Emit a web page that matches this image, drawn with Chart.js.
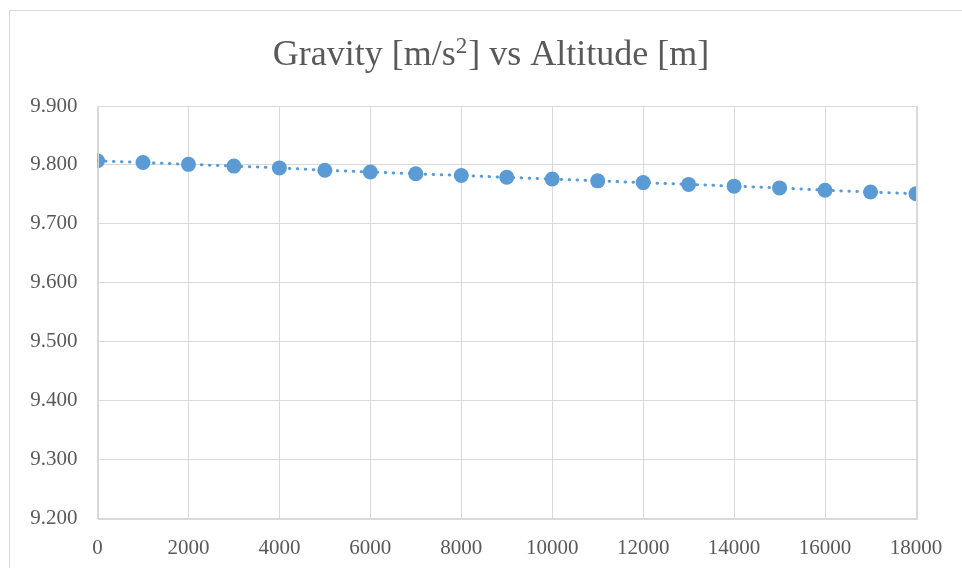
<!DOCTYPE html>
<html>
<head>
<meta charset="utf-8">
<title>Gravity vs Altitude</title>
<script src="https://cdn.jsdelivr.net/npm/chart.js@4/dist/chart.umd.min.js"></script>
<style>
  html, body { margin: 0; padding: 0; background: #fff; overflow: hidden; }
  #wrap { position: relative; width: 962px; height: 568px; }
  #frame {
    position: absolute; left: 9px; top: 10px; width: 1000px; height: 700px;
    border: 1px solid #d9d9d9; box-sizing: border-box;
  }
  canvas { position: absolute; left: 0; top: 0; }
</style>
</head>
<body>
<div id="wrap">
  <div id="frame"></div>
  <canvas id="myChart" width="962" height="568"></canvas>
</div>
<script>
// altitude [m] and gravity [m/s²]
const altitudes = [0, 1000, 2000, 3000, 4000, 5000, 6000, 7000, 8000, 9000,
                   10000, 11000, 12000, 13000, 14000, 15000, 16000, 17000, 18000];
const gravity = [9.807, 9.804, 9.801, 9.798, 9.795, 9.791, 9.788, 9.785, 9.782, 9.779,
                 9.776, 9.773, 9.770, 9.767, 9.764, 9.761, 9.757, 9.754, 9.751];

const xTicks = [0, 2000, 4000, 6000, 8000, 10000, 12000, 14000, 16000, 18000];
const yTicks = [9.2, 9.3, 9.4, 9.5, 9.6, 9.7, 9.8, 9.9];

// title pieces: the "2" is drawn as a superscript
const titleParts = [
    { text: 'Gravity [m/s', sup: false },
    { text: '2', sup: true },
    { text: '] vs Altitude [m]', sup: false }
];

const points = altitudes.map((h, i) => ({ x: h, y: gravity[i] }));

const textColor = '#595959';
const gridColor = '#d9d9d9';
const serif = '"Liberation Serif", "DejaVu Serif", serif';

const ctx = document.getElementById('myChart').getContext('2d');

const myChart = new Chart(ctx, {
    type: 'scatter',
    data: {
        datasets: [{
            label: 'Gravity',
            data: points,
            showLine: true,
            borderColor: '#5b9bd5',
            borderWidth: 3,
            borderDash: [0.5, 7.5],
            borderCapStyle: 'round',
            pointRadius: 7.5,
            pointHoverRadius: 7.5,
            pointBackgroundColor: '#5b9bd5',
            pointBorderColor: '#5b9bd5',
            pointBorderWidth: 0
        }]
    },
    options: {
        responsive: false,
        animation: false,
        layout: { padding: { left: 0, right: 46, top: 106, bottom: 0 } },
        plugins: {
            legend: { display: false },
            tooltip: { enabled: false },
            title: { display: false }
        },
        scales: {
            x: {
                type: 'linear',
                min: 0,
                max: 18000,
                afterBuildTicks: s => { s.ticks = xTicks.map(v => ({ value: v })); },
                afterFit: s => { s.height = 49.5; },
                ticks: {
                    color: textColor,
                    font: { family: serif, size: 21 },
                    padding: 17,
                    maxRotation: 0,
                    callback: v => String(v)
                },
                grid: { color: gridColor, lineWidth: 1, drawTicks: false },
                border: { color: gridColor, width: 1 }
            },
            y: {
                min: 9.2,
                max: 9.9,
                afterBuildTicks: s => { s.ticks = yTicks.map(v => ({ value: v })); },
                afterFit: s => { s.width = 97.5; },
                ticks: {
                    color: textColor,
                    font: { family: serif, size: 21 },
                    padding: 20,
                    callback: v => Number(v).toFixed(3)
                },
                grid: { color: gridColor, lineWidth: 1, drawTicks: false },
                border: { color: gridColor, width: 1 }
            }
        }
    },
    plugins: [{
        // closes the plot area on the top and right sides
        id: 'plotFrame',
        afterDraw(chart) {
            const a = chart.chartArea;
            const c = chart.ctx;
            c.save();
            c.strokeStyle = gridColor;
            c.lineWidth = 1;
            c.strokeRect(Math.round(a.left) + 0.5, Math.round(a.top) + 0.5,
                         Math.round(a.right - a.left), Math.round(a.bottom - a.top));
            c.restore();
        }
    }, {
        // chart title, centred on the outer chart frame
        id: 'frameTitle',
        afterDraw(chart) {
            const c = chart.ctx;
            const mainFont = '36px ' + serif;
            const supFont = '23px ' + serif;
            const centerX = 491, baseY = 65;
            c.save();
            c.fillStyle = textColor;
            c.textBaseline = 'alphabetic';
            c.textAlign = 'left';
            let total = 0;
            const widths = titleParts.map(p => {
                c.font = p.sup ? supFont : mainFont;
                const w = c.measureText(p.text).width + (p.sup ? 1 : 0);
                total += w;
                return w;
            });
            let x = centerX - total / 2;
            titleParts.forEach((p, i) => {
                c.font = p.sup ? supFont : mainFont;
                c.fillText(p.text, x, p.sup ? baseY - 12 : baseY);
                x += widths[i];
            });
            c.restore();
        }
    }]
});
</script>
</body>
</html>
